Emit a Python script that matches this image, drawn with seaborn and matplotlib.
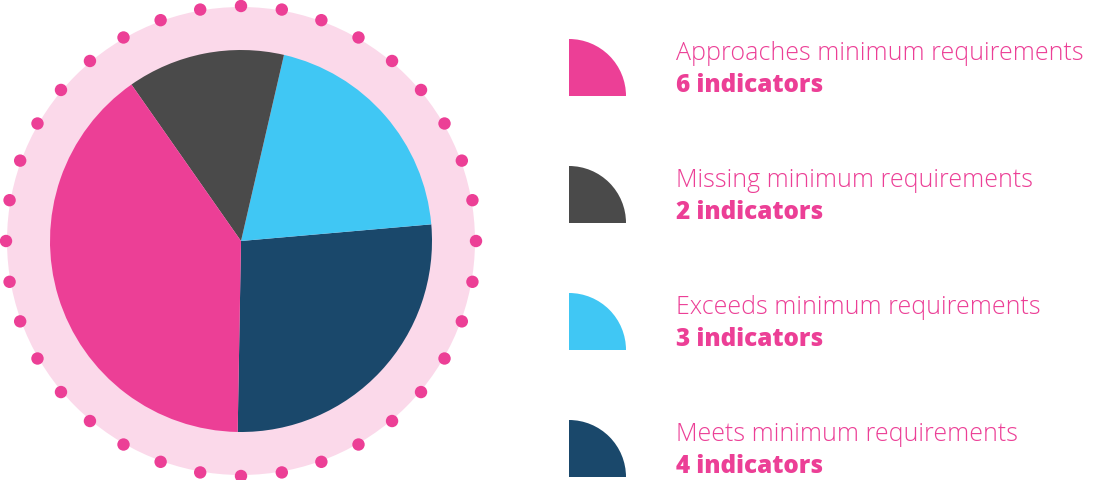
import numpy as np
import matplotlib
matplotlib.use("Agg")
import matplotlib.pyplot as plt
from matplotlib.patches import Circle, Wedge
import seaborn as sns

# Data
categories = ["Approaches minimum requirements", "Missing minimum requirements",
              "Exceeds minimum requirements", "Meets minimum requirements"]
counts = [6, 2, 3, 4]
count_labels = ["6 indicators", "2 indicators", "3 indicators", "4 indicators"]
colors = ["#EC3F96", "#4A4A4A", "#40C7F4", "#1A486B"]

sns.set_theme(style="white")
plt.rcParams['font.family'] = ['Open Sans', 'DejaVu Sans']

W, H = 1093, 481
fig = plt.figure(figsize=(W / 100, H / 100), dpi=100)
ax = fig.add_axes([0, 0, 1, 1])

cx, cy = 241, H - 242
# background ring
ax.add_patch(Circle((cx, cy), 234, facecolor="#FBD9EA", edgecolor="none", zorder=0))
# dots
angles = np.deg2rad(np.arange(0, 360, 10))
for a in angles:
    ax.add_patch(Circle((cx + 235 * np.cos(a), cy + 235 * np.sin(a)), 6.2,
                        facecolor="#EC3F96", edgecolor="none", zorder=1))

# pie: order counterclockwise from bottom: Meets, Exceeds, Missing, Approaches
order = [3, 2, 1, 0]
ax.pie([counts[i] for i in order], colors=[colors[i] for i in order],
       startangle=-91, counterclock=True, center=(cx, cy), radius=191,
       wedgeprops=dict(linewidth=0, edgecolor="none"))

# legend
for k in range(4):
    yb = H - (97 + 127 * k)
    ax.add_patch(Wedge((569, yb), 57, 0, 90, facecolor=colors[k], edgecolor="none"))
    ax.text(676, yb + 37, categories[k], fontsize=18, color="#EC3F96",
            fontweight="light", ha="left", va="baseline")
    ax.text(676, yb + 5, count_labels[k], fontsize=17.5, color="#EC3F96",
            fontweight="extra bold", ha="left", va="baseline")

ax.set_xlim(0, W)
ax.set_ylim(0, H)
ax.set_aspect("equal")
ax.axis("off")
fig.savefig("out.png", dpi=100, facecolor="white")
